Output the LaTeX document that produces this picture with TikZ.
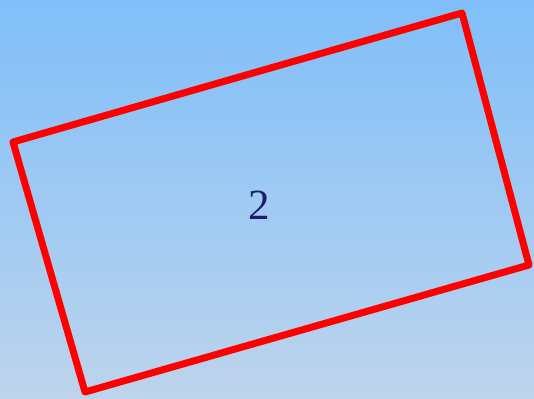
\documentclass[tikz,border=0pt]{standalone}
\usepackage{fontspec}
\setmainfont{Liberation Serif}
\definecolor{topblue}{HTML}{80BFFA}
\definecolor{botblue}{HTML}{BDD4EC}
\definecolor{navy}{HTML}{1C1C6A}
\definecolor{redline}{HTML}{FF0000}
\tikzset{frameline/.style={draw=redline, line width=7pt, line join=round}}
\begin{document}
\begin{tikzpicture}[x=1pt,y=-1pt]
\shade[top color=topblue, bottom color=botblue] (0,0) rectangle (534,398);
\useasboundingbox (0,0) rectangle (534,398);
\coordinate (tl) at (13,142);
\coordinate (tr) at (462,13);
\coordinate (br) at (529,265);
\coordinate (bl) at (85,392);
\draw[frameline] (tl) -- (tr) -- (br) -- (bl) -- cycle;
\node[text=navy, font=\fontsize{43}{43}\selectfont, inner sep=0pt] (label) at (259,205) {2};
\end{tikzpicture}
\end{document}
